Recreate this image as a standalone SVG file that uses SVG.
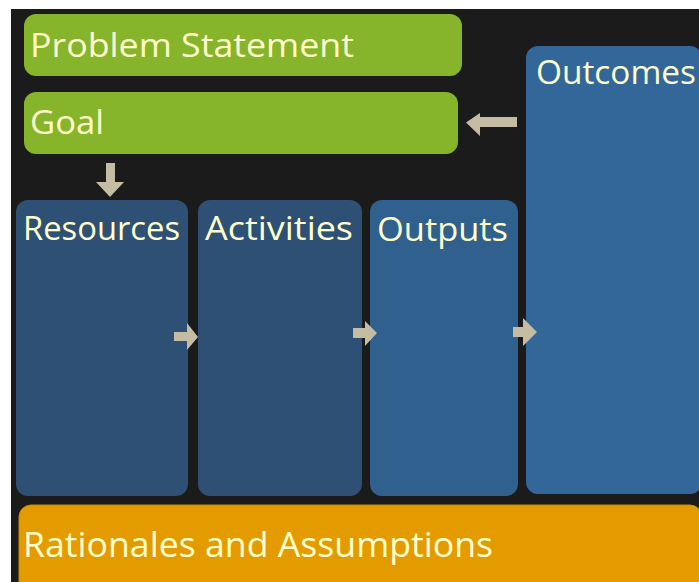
<svg xmlns="http://www.w3.org/2000/svg" width="699" height="582" viewBox="0 0 699 582">
  <style>
    .lbl { font-family: "Open Sans", "Noto Sans", "Liberation Sans", sans-serif; font-size: 33px; fill: #ffffcc; }
    .green { fill: #86b42a; }
    .arrow { fill: #c4bda4; }
  </style>
  <rect x="0" y="0" width="699" height="582" fill="#ffffff"/>
  <rect x="11" y="9" width="688" height="573" fill="#1b1b1b"/>

  <g id="problem-statement">
    <rect class="green" x="24" y="14" width="438" height="62" rx="12"/>
    <text class="lbl" x="30" y="57" textLength="324" lengthAdjust="spacingAndGlyphs">Problem Statement</text>
  </g>
  <g id="goal">
    <rect class="green" x="24" y="92" width="434" height="62" rx="12"/>
    <text class="lbl" x="30" y="134" textLength="74" lengthAdjust="spacingAndGlyphs">Goal</text>
  </g>
  <g id="outcomes">
    <rect x="526" y="46" width="176" height="448" rx="12" fill="#336799"/>
    <text class="lbl" x="536" y="84" textLength="160" lengthAdjust="spacingAndGlyphs">Outcomes</text>
  </g>
  <g id="resources">
    <rect x="16" y="200" width="172" height="296" rx="12" fill="#2e5074"/>
    <text class="lbl" x="23" y="240" textLength="157" lengthAdjust="spacingAndGlyphs">Resources</text>
  </g>
  <g id="activities">
    <rect x="198" y="200" width="164" height="296" rx="12" fill="#2e5074"/>
    <text class="lbl" x="205" y="240" textLength="148" lengthAdjust="spacingAndGlyphs">Activities</text>
  </g>
  <g id="outputs">
    <rect x="370" y="200" width="148" height="296" rx="12" fill="#30608d"/>
    <text class="lbl" x="377" y="241" textLength="131" lengthAdjust="spacingAndGlyphs">Outputs</text>
  </g>
  <g id="rationales">
    <rect x="19" y="505" width="683" height="92" rx="12" fill="#e39b00" stroke="#c98a00" stroke-width="1"/>
    <text class="lbl" x="23" y="557" style="font-size:34px" textLength="470" lengthAdjust="spacingAndGlyphs">Rationales and Assumptions</text>
  </g>

  <g id="connectors">
    <polygon class="arrow" points="106,163 115,163 115,182 124,182 110,197 96,182 106,182"/>
    <polygon class="arrow" points="517,117 517,127 480,127 480,136 466,122.5 480,113 480,117"/>
    <polygon class="arrow" points="174,332 187,332 187,323 198,337 187,350 187,341 174,341"/>
    <polygon class="arrow" points="353,328 365,328 365,321 377,333 365,346 365,338 353,338"/>
    <polygon class="arrow" points="513,327 523,327 523,318 537,332 523,346 523,337 513,337"/>
  </g>
</svg>
